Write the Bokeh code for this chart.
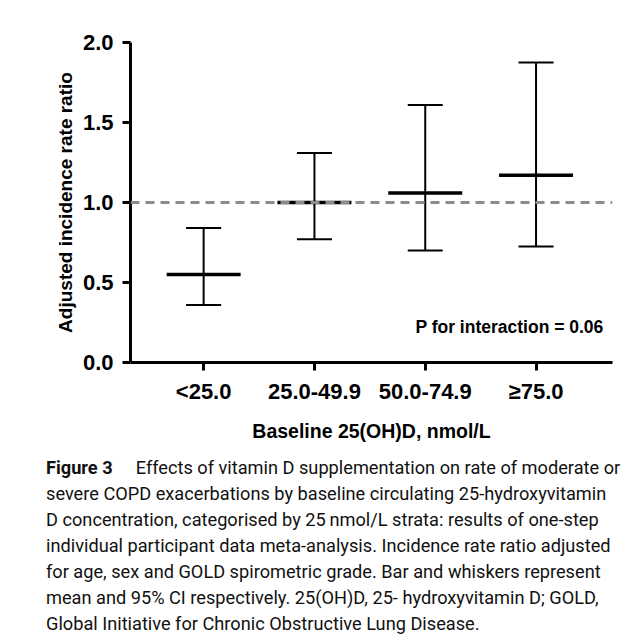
from bokeh.plotting import figure
from bokeh.models import (ColumnDataSource, Range1d, FixedTicker, PrintfTickFormatter,
                          Span, Label, Whisker, TeeHead, Div)
from bokeh.layouts import column
from bokeh.embed import file_html
from bokeh.resources import INLINE

categories = ["<25.0", "25.0-49.9", "50.0-74.9", "\u226575.0"]
means = [0.55, 1.00, 1.06, 1.17]
lower = [0.36, 0.77, 0.70, 0.725]
upper = [0.84, 1.31, 1.61, 1.875]
y_ticks = [0.0, 0.5, 1.0, 1.5, 2.0]
positions = [1, 2, 3, 4]

src = ColumnDataSource(dict(x=positions, mean=means, lower=lower, upper=upper))

FONT = "Liberation Sans"

p = figure(width=628, height=453, output_backend="svg", toolbar_location=None,
           x_range=Range1d(0.34, 4.69), y_range=Range1d(0, 2.0),
           min_border_left=130, min_border_right=16, min_border_top=42,
           min_border_bottom=91)
p.outline_line_color = None
p.xgrid.visible = False
p.ygrid.visible = False
p.background_fill_color = "white"
p.border_fill_color = "white"

for ax in (p.xaxis[0], p.yaxis[0]):
    ax.axis_line_width = 3
    ax.axis_line_color = "black"
    ax.major_tick_line_width = 3
    ax.major_tick_line_color = "black"
    ax.major_tick_out = 8
    ax.major_tick_in = 0
    ax.minor_tick_line_color = None
    ax.major_label_text_font = FONT
    ax.major_label_text_font_style = "bold"
    ax.major_label_text_color = "black"
    ax.axis_label_text_font = FONT
    ax.axis_label_text_font_style = "bold"
    ax.axis_label_text_color = "black"

p.yaxis.ticker = FixedTicker(ticks=y_ticks)
p.yaxis.formatter = PrintfTickFormatter(format="%.1f")
p.yaxis.major_label_text_font_size = "22px"
p.yaxis.major_label_standoff = 9
p.yaxis.axis_label = "Adjusted incidence rate ratio"
p.yaxis.axis_label_text_font_size = "19px"
p.yaxis.axis_label_standoff = 4

p.xaxis.ticker = FixedTicker(ticks=positions)
p.xaxis.major_label_overrides = {pos: lab for pos, lab in zip(positions, categories)}
p.xaxis.major_label_text_font_size = "22px"
p.xaxis.major_label_standoff = 8
p.xaxis.axis_label = "Baseline 25(OH)D, nmol/L"
p.xaxis.axis_label_text_font_size = "19.5px"
p.xaxis.axis_label_standoff = 13

p.add_layout(Span(location=1.0, dimension="width", line_color="#8c8c8c",
                  line_width=3, line_dash="9 6"))

w = Whisker(base="x", lower="lower", upper="upper", source=src,
            line_color="black", line_width=2,
            lower_head=TeeHead(size=35, line_width=2, line_color="black"),
            upper_head=TeeHead(size=35, line_width=2, line_color="black"))
p.add_layout(w)

p.scatter(x="x", y="mean", source=src, marker="dash", size=74,
          line_color="black", line_width=3.5)

p.add_layout(Label(x=4.61, y=0.225, text="P for interaction = 0.06",
                   text_align="right", text_baseline="middle",
                   text_font=FONT, text_font_style="bold",
                   text_font_size="17.5px", text_color="black"))

caption = Div(
    text=("<b>Figure 3</b>&emsp;&nbsp;Effects of vitamin D supplementation on rate of moderate or<br>"
          "severe COPD exacerbations by baseline circulating 25-hydroxyvitamin<br>"
          "D concentration, categorised by 25&thinsp;nmol/L strata: results of one-step<br>"
          "individual participant data meta-analysis. Incidence rate ratio adjusted<br>"
          "for age, sex and GOLD spirometric grade. Bar and whiskers represent<br>"
          "mean and 95% CI respectively. 25(OH)D, 25- hydroxyvitamin D; GOLD,<br>"
          "Global Initiative for Chronic Obstructive Lung Disease."),
    width=620,
    styles={"font-family": "Roboto, sans-serif", "font-size": "18.2px",
            "line-height": "26px", "color": "#111", "white-space": "nowrap",
            "margin-left": "46px", "margin-top": "2px"})

layout = column(p, caption, spacing=0)

open("out.html", "w").write(file_html(layout, INLINE))
